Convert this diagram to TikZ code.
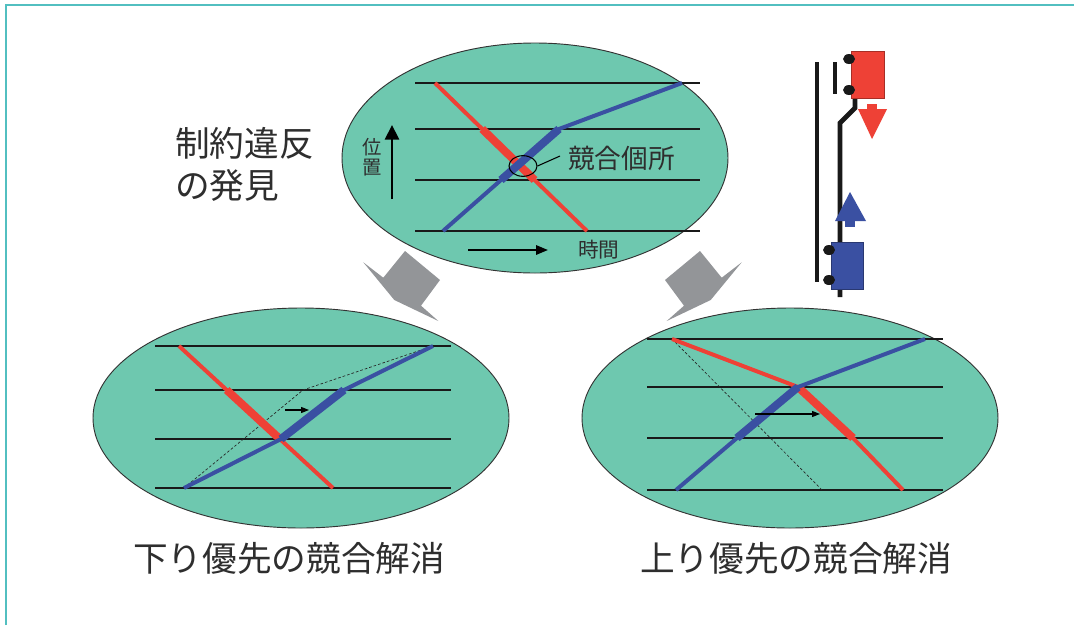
\documentclass[tikz,border=0pt]{standalone}
\usepackage{fontspec}
\newfontfamily\jp{Noto Sans CJK JP}
\usetikzlibrary{shapes.geometric,arrows.meta}
\definecolor{pool}{HTML}{6EC8AF}
\definecolor{downred}{HTML}{EE4136}
\definecolor{upblue}{HTML}{3A50A2}
\definecolor{framecol}{HTML}{52BFC0}
\definecolor{arrowgray}{HTML}{939598}
\definecolor{ink}{HTML}{2E2E2E}

\begin{document}
\begin{tikzpicture}[x=0.75pt,y=-0.75pt,
  diagram/.style={ellipse, draw=black!80, line width=0.7pt, fill=pool, inner sep=0pt},
  gridline/.style={line width=2.2pt, black!90},
  redthin/.style={line width=3pt, downred},
  redthick/.style={line width=6pt, downred},
  bluethin/.style={line width=3pt, upblue},
  bluethick/.style={line width=6pt, upblue},
  shifted/.style={line width=0.5pt, black!85, dash pattern=on 2pt off 1.5pt},
  caption/.style={font=\jp\fontsize{26pt}{31pt}\selectfont, text=ink, inner sep=0pt, anchor=west},
  rail/.style={line width=3.6pt, black!90},
  wheel/.style={fill=black!90},
]
\useasboundingbox (0,0) rectangle (1074,625);
\fill[white] (0,0) rectangle (1074,625);
\draw[framecol, line width=1.5pt] (6,625) -- (6,5) -- (1074,5);

% --- diagram panels
\node[diagram, minimum width=289.5pt, minimum height=172.5pt] (top) at (535,158) {};
\node[diagram, minimum width=312pt, minimum height=165pt] (downfirst) at (301,418) {};
\node[diagram, minimum width=312pt, minimum height=165pt] (upfirst) at (790,418) {};

% --- grey block arrows between panels
\fill[arrowgray] (363.3,262.3) -- (383.3,277.7) -- (405,251) -- (440,280) -- (421,305.7)
  -- (438.3,321) -- (394.3,300) -- cycle;
\fill[arrowgray] (741.7,262.3) -- (721.7,277.7) -- (700,251) -- (665,280) -- (684,305.7)
  -- (666.7,321) -- (710.7,300) -- cycle;

% --- top panel: conflict found
\foreach \y in {83,129,180,231} \draw[gridline] (415,\y) -- (700,\y);
\draw[redthin] (435,83) -- (587,231);
\draw[redthick] (482.2,129) -- (534.6,180);
\draw[bluethin] (443,231) -- (559,129) -- (682,83);
\draw[bluethick] (501,180) -- (559,129);
\node[ellipse, draw=black, line width=0.8pt, minimum width=21pt, minimum height=15.5pt, inner sep=0pt] (conflict) at (523,166) {};
\node[caption, font=\jp\fontsize{20pt}{24pt}\selectfont] (conflictlabel) at (568,158) {競合個所};
\coordinate (leaderend) at (560,156);
\draw[line width=0.8pt] (conflict.east) -- (leaderend);
\node[font=\jp\fontsize{14.5pt}{15pt}\selectfont, text=ink, inner sep=0pt, align=center] (poslabel) at (372,157) {位\\置};
\coordinate (posfrom) at (392,199);
\coordinate (posto) at (392,125);
\draw[line width=2.2pt, -{Triangle[length=11pt,width=10.5pt]}] (posfrom) -- (posto);
\node[caption, font=\jp\fontsize{15.5pt}{18pt}\selectfont] (timelabel) at (578,250) {時間};
\coordinate (timefrom) at (468,250);
\coordinate (timeto) at (548,250);
\draw[line width=1.6pt, -{Triangle[length=9pt,width=7pt]}] (timefrom) -- (timeto);

% --- lower left panel: down train first
\foreach \y in {346,390,439,488} \draw[gridline] (155,\y) -- (451,\y);
\draw[shifted] (184,488) -- (303,390) -- (433,346);
\draw[redthin] (179,346) -- (333,488);
\draw[redthick] (226.7,390) -- (279.9,439);
\draw[bluethin] (184,488) -- (281,439) -- (344,390) -- (433,346);
\draw[bluethick] (281,439) -- (344,390);
\coordinate (dshiftfrom) at (285,410);
\coordinate (dshiftto) at (309,410);
\draw[line width=0.8pt, -{Triangle[length=6pt,width=4.5pt]}] (dshiftfrom) -- (dshiftto);

% --- lower right panel: up train first
\foreach \y in {339,387,438,490} \draw[gridline] (647,\y) -- (943,\y);
\draw[shifted] (672,339) -- (822,490);
\draw[redthin] (672,339) -- (798,387) -- (853,438) -- (903,490);
\draw[redthick] (798,387) -- (853,438);
\draw[bluethin] (676,490) -- (737,438) -- (798,387) -- (925,339);
\draw[bluethick] (737,438) -- (798,387);
\coordinate (ushiftfrom) at (755,414);
\coordinate (ushiftto) at (820,414);
\draw[line width=0.8pt, -{Triangle[length=6pt,width=4.5pt]}] (ushiftfrom) -- (ushiftto);

% --- captions
\node[caption] (found1) at (175,143) {制約違反};
\node[caption] (found2) at (175,185) {の発見};
\node[caption] (downcap) at (133,558) {下り優先の競合解消};
\node[caption] (upcap) at (640,558) {上り優先の競合解消};

% --- track layout with the two trains
\draw[rail] (817,62) -- (817,282);
\draw[line width=3pt, black!90] (835,62) -- (835,94);
\draw[rail] (855,98) -- (855,108) -- (840,123) -- (840,297);
\filldraw[fill=downred, draw=downred!70!black, line width=0.5pt] (851,51) rectangle (884,98);
\filldraw[fill=upblue, draw=upblue!70!black, line width=0.5pt] (831,242) rectangle (863,289);
\fill[wheel] (849,59) ellipse [x radius=6, y radius=5];
\fill[wheel] (849,90) ellipse [x radius=6, y radius=5];
\fill[wheel] (829,250) ellipse [x radius=6, y radius=5];
\fill[wheel] (829,280) ellipse [x radius=6, y radius=5];
% direction of travel
\fill[downred] (867,104) rectangle (877,110);
\fill[downred] (858,109) -- (887,109) -- (872,139) -- cycle;
\fill[upblue] (845,220) rectangle (855,227);
\fill[upblue] (835,221) -- (866,221) -- (850,192) -- cycle;
\end{tikzpicture}
\end{document}
